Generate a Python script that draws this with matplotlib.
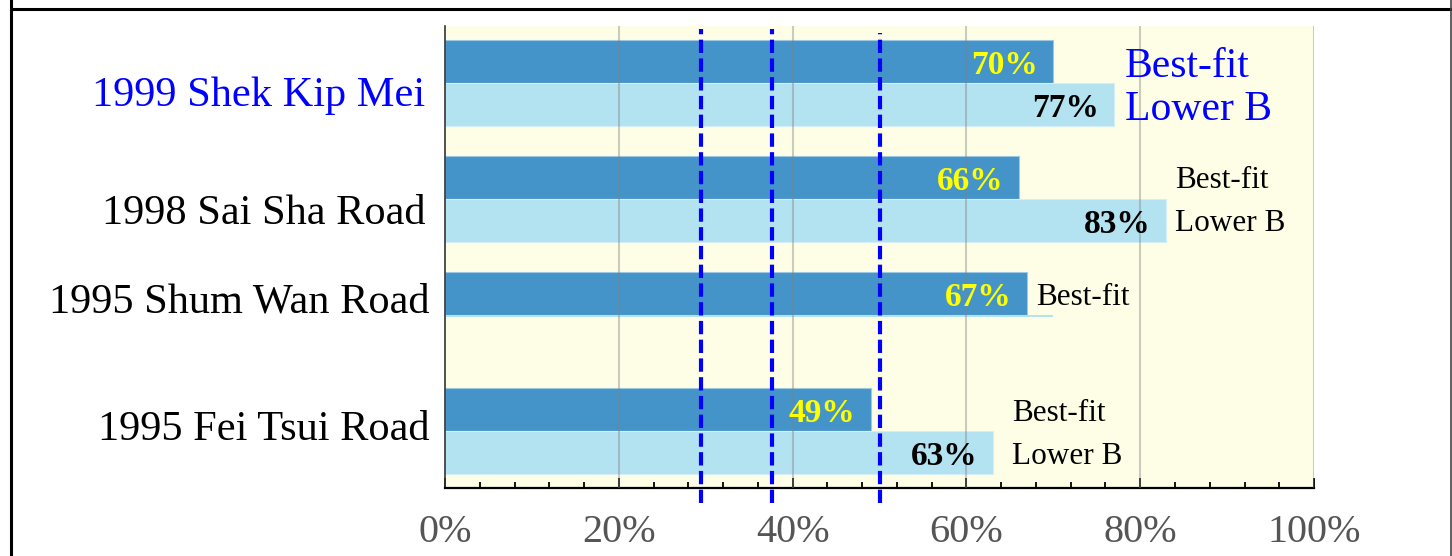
import matplotlib.pyplot as plt
from matplotlib.lines import Line2D
import numpy as np

plt.rcParams['font.family'] = ['Liberation Serif', 'DejaVu Serif']

# data
sites = ['1999 Shek Kip Mei', '1998 Sai Sha Road', '1995 Shum Wan Road', '1995 Fei Tsui Road']
best_fit = [70, 66, 67, 49]
lower_b = [77, 83, 70, 63]
lower_shown = [True, True, False, True]   # Shum Wan only shows a sliver of the lower bar
ref_lines = [29.5, 37.6, 50.0]
xticks = [0, 20, 40, 60, 80, 100]
xtick_labels = ['0%', '20%', '40%', '60%', '80%', '100%']

# styling
dark = '#4594C9'
light = '#B3E2F1'
site_colors = ['#0000FF', 'black', 'black', 'black']
label_dy = [0.11, 0.13, -0.11, -0.01]
label_dx = [-14, -14, -11, -11]
side_x = [78.2, 84.0, 68.0, 65.2]
side_size = [30, 22.5, 22.5, 22.5]
side_dy = [-4, -2.5, -2.5, -2.5]

fig = plt.figure(figsize=(14.52, 5.56), dpi=100)
ax = fig.add_axes([0.3065, 0.1223, 0.5985, 0.8309])
ax.set_facecolor('#FEFEE6')

y = np.arange(len(sites))
h = 0.37
ax.barh(y - h / 2, best_fit, height=h, color=dark, edgecolor='#9CC8E4', lw=0.8, zorder=2)
for i in range(len(sites)):
    if lower_shown[i]:
        ax.barh(y[i] + h / 2, lower_b[i], height=h, color=light, edgecolor='#D6EEF8', lw=0.8, zorder=2)
    else:
        ax.barh(y[i] + 0.012, lower_b[i], height=0.018, color=light, lw=0, zorder=2)

# grid
for g in xticks[1:]:
    ax.axvline(g, color='#808080', alpha=0.4, lw=1.5, zorder=3)

# value labels
for i in range(len(sites)):
    ax.annotate(f'{best_fit[i]}%', xy=(best_fit[i], y[i] - h / 2), xytext=(-11, -3),
                textcoords='offset points', ha='right', va='center',
                fontsize=24, fontweight='bold', color='#FFFF00', zorder=5)
    if lower_shown[i]:
        ax.annotate(f'{lower_b[i]}%', xy=(lower_b[i], y[i] + h / 2), xytext=(-11, -3),
                    textcoords='offset points', ha='right', va='center',
                    fontsize=24, fontweight='bold', color='black', zorder=5)

# side labels
for i in range(len(sites)):
    ax.annotate('Best-fit', xy=(side_x[i], y[i] - h / 2), xytext=(0, side_dy[i]),
                textcoords='offset points', ha='left', va='center',
                fontsize=side_size[i], color=site_colors[i], zorder=5)
    if lower_shown[i]:
        ax.annotate('Lower B', xy=(side_x[i], y[i] + h / 2), xytext=(0, side_dy[i]),
                    textcoords='offset points', ha='left', va='center',
                    fontsize=side_size[i], color=site_colors[i], zorder=5)

# site labels
for i, s in enumerate(sites):
    ax.annotate(s, xy=(0, y[i] + label_dy[i]), xycoords=('axes fraction', 'data'),
                xytext=(label_dx[i], 0), textcoords='offset points', ha='right', va='center',
                fontsize=30.5, color=site_colors[i], annotation_clip=False)

# dashed reference lines
tops = [0.9935, 0.9935, 0.985]
for xv, t in zip(ref_lines, tops):
    ax.plot([xv, xv], [-0.0325, t], transform=ax.get_xaxis_transform(),
            color='#0000FF', lw=3, dashes=(3.2, 1.3), clip_on=False, zorder=6)

ax.set_xlim(0, 100)
ax.set_ylim(3.49, -0.49)
ax.set_yticks([])
ax.set_xticks(xticks)
ax.set_xticklabels(xtick_labels, fontsize=29, color='#555555')
ax.set_xticks(np.arange(0, 101, 4), minor=True)
ax.tick_params(axis='x', which='major', direction='in', length=7, width=1.3, pad=19, color='black')
ax.tick_params(axis='x', which='minor', direction='in', length=4.5, width=1.3, color='black')

for side in ['top', 'right']:
    ax.spines[side].set_visible(False)
ax.spines['bottom'].set_linewidth(1.6)
ax.spines['bottom'].set_color('black')
ax.spines['left'].set_linewidth(1.2)
ax.spines['left'].set_color('#333333')

# outer frame
fig.add_artist(Line2D([11 / 1452, 1], [1 - 9 / 556, 1 - 9 / 556], color='black', lw=2.2))
fig.add_artist(Line2D([11 / 1452, 11 / 1452], [0, 1], color='black', lw=2.2))
fig.add_artist(Line2D([1451 / 1452, 1451 / 1452], [0, 1], color='#444444', lw=1.2))

fig.savefig('out.png', dpi=100)
